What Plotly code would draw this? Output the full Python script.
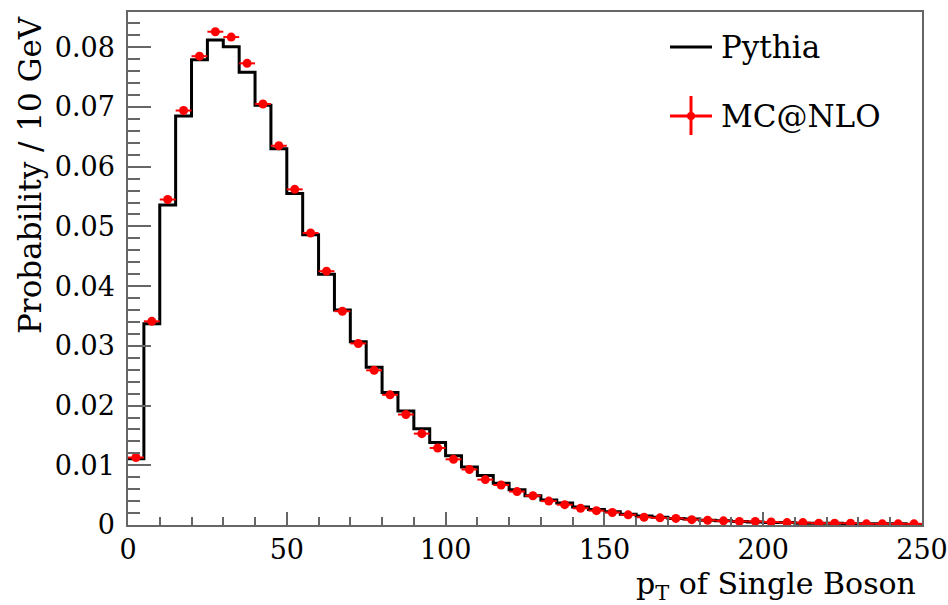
import plotly.graph_objects as go

# ---- data ----
bin_width = 5
bin_lo = list(range(0, 250, 5))  # lower bin edges, GeV
pythia = [0.0111, 0.0337, 0.0536, 0.0685, 0.0779, 0.0812, 0.0801, 0.0758, 0.0703, 0.0630,
          0.0555, 0.0486, 0.0420, 0.0360, 0.0307, 0.0264, 0.0222, 0.0191, 0.0161, 0.0138,
          0.0116, 0.0097, 0.0083, 0.0070, 0.0059, 0.0049, 0.0042, 0.0037, 0.0030, 0.0026,
          0.0022, 0.0018, 0.0015, 0.0013, 0.0011, 0.0010, 0.0008, 0.0007, 0.0006, 0.0005,
          0.0004, 0.0004, 0.0003, 0.0003, 0.0003, 0.0002, 0.0002, 0.0002, 0.0002, 0.0001]
mcnlo = [0.0113, 0.0341, 0.0545, 0.0694, 0.0785, 0.0826, 0.0817, 0.0773, 0.0705, 0.0635,
         0.0562, 0.0489, 0.0425, 0.0358, 0.0304, 0.0259, 0.0218, 0.0185, 0.0153, 0.0129,
         0.0110, 0.0093, 0.0076, 0.0067, 0.0056, 0.0049, 0.0040, 0.0034, 0.0028, 0.0024,
         0.0021, 0.0017, 0.0013, 0.0012, 0.0011, 0.0009, 0.0008, 0.0007, 0.0006, 0.0006,
         0.0005, 0.0004, 0.0004, 0.0003, 0.0003, 0.0003, 0.0002, 0.0002, 0.0002, 0.0002]
y_tickvals = [0, 0.01, 0.02, 0.03, 0.04, 0.05, 0.06, 0.07, 0.08]
y_ticktext = ["0", "0.01", "0.02", "0.03", "0.04", "0.05", "0.06", "0.07", "0.08"]
x_tickvals = [0, 50, 100, 150, 200, 250]
x_ticktext = ["0", "50", "100", "150", "200", "250"]

FONT = "DejaVu Serif"
W, H = 948, 605
L, R, T, B = 128, 26, 12, 80
PW, PH = W - L - R, H - T - B

def px(xp):
    return (xp - L) / PW

def py(yp):
    return (H - B - yp) / PH

# step line for Pythia
step_x = bin_lo + [bin_lo[-1] + bin_width]
step_y = pythia + [pythia[-1]]
centers = [b + bin_width / 2 for b in bin_lo]

fig = go.Figure()
fig.add_trace(go.Scatter(x=step_x, y=step_y, mode="lines", line_shape="hv",
                         line=dict(color="black", width=3), name="Pythia",
                         showlegend=False, hoverinfo="skip"))
fig.add_trace(go.Scatter(x=centers, y=mcnlo, mode="markers", name="MC@NLO",
                         marker=dict(color="#ff0000", size=9, symbol="circle"),
                         error_x=dict(type="constant", value=bin_width / 2, color="#ff0000",
                                      thickness=2, width=0),
                         showlegend=False))

axis_col = "#666666"
fig.update_layout(
    width=W, height=H,
    margin=dict(l=L, r=R, t=T, b=B, pad=0),
    paper_bgcolor="white", plot_bgcolor="white",
    font=dict(family=FONT, color="black", size=27),
    xaxis=dict(range=[0, 250], showgrid=False, zeroline=False, showline=True, mirror=True,
               automargin=False,
               linecolor=axis_col, linewidth=1.5, ticks="inside", ticklen=13, tickwidth=1.5,
               tickcolor=axis_col, tickvals=x_tickvals, ticktext=x_ticktext,
               tickfont=dict(size=27, family=FONT),
               minor=dict(ticks="inside", ticklen=8, dtick=10, tickcolor=axis_col, tickwidth=1.5)),
    yaxis=dict(range=[0, 0.0859], showgrid=False, zeroline=False, showline=True, mirror=True,
               automargin=False,
               linecolor=axis_col, linewidth=1.5, ticks="inside", ticklen=23, tickwidth=1.5,
               tickcolor=axis_col, tickvals=y_tickvals, ticktext=y_ticktext,
               tickfont=dict(size=27, family=FONT), ticklabelstandoff=6,
               minor=dict(ticks="inside", ticklen=12, dtick=0.002, tickcolor=axis_col, tickwidth=1.5)),
)

# axis titles (ROOT style, aligned to the axis ends)
fig.add_annotation(xref="paper", yref="paper", x=px(918), y=py(585), xanchor="right",
                   yanchor="middle", showarrow=False,
                   text="p<sub>T</sub> of Single Boson", font=dict(size=30, family=FONT))
fig.add_annotation(xref="paper", yref="paper", x=px(30), y=py(14), xanchor="center",
                   yanchor="top", showarrow=False, textangle=-90,
                   text="Probability / 10 GeV", font=dict(size=31, family=FONT))

# legend drawn manually
fig.add_shape(type="line", xref="paper", yref="paper", x0=px(670), x1=px(712),
              y0=py(47), y1=py(47), line=dict(color="black", width=3))
fig.add_annotation(xref="paper", yref="paper", x=px(719), y=py(47), xanchor="left",
                   yanchor="middle", showarrow=False, text="Pythia",
                   font=dict(size=31, family=FONT))
fig.add_shape(type="line", xref="paper", yref="paper", x0=px(670), x1=px(712),
              y0=py(116), y1=py(116), line=dict(color="#ff0000", width=3))
fig.add_shape(type="line", xref="paper", yref="paper", x0=px(691), x1=px(691),
              y0=py(96), y1=py(135), line=dict(color="#ff0000", width=3))
fig.add_shape(type="circle", xref="paper", yref="paper", x0=px(687), x1=px(695),
              y0=py(112), y1=py(120), fillcolor="#ff0000", line=dict(color="#ff0000", width=0))
fig.add_annotation(xref="paper", yref="paper", x=px(719), y=py(116), xanchor="left",
                   yanchor="middle", showarrow=False, text="MC@NLO",
                   font=dict(size=31, family=FONT))

fig.write_html("out.html")
